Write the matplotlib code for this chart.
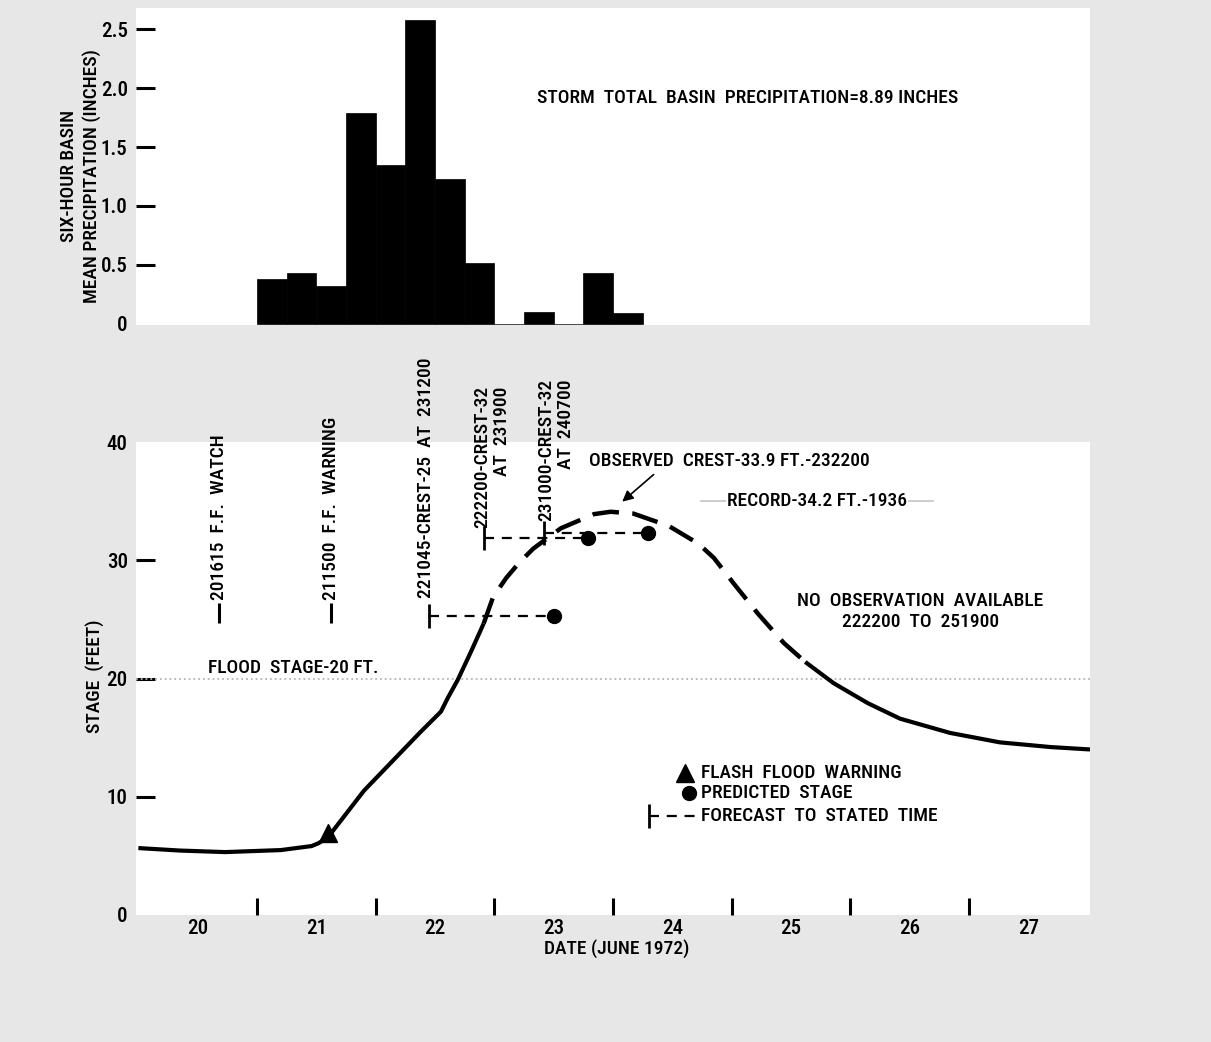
import matplotlib
matplotlib.use('Agg')
import matplotlib.pyplot as plt

plt.rcParams['font.family'] = ['Roboto Condensed', 'Open Sans', 'DejaVu Sans']
plt.rcParams['font.stretch'] = 'condensed'
plt.rcParams['font.weight'] = 'medium'
plt.rcParams['axes.labelweight'] = 'medium'
plt.rcParams['font.size'] = 14

# six-hour basin mean precipitation (inches), periods starting at the given day (June 1972)
precip_start = [21.0, 21.25, 21.5, 21.75, 22.0, 22.25, 22.5, 22.75, 23.0, 23.25, 23.5, 23.75, 24.0]
precip_in = [0.38, 0.43, 0.32, 1.79, 1.35, 2.58, 1.23, 0.52, 0.0, 0.10, 0.0, 0.43, 0.09]

# stage hydrograph (feet), observed rise
rise_day = [20.0, 20.35, 20.73, 21.2, 21.46, 21.52, 21.6, 21.9, 22.38, 22.55, 22.61, 22.69, 22.8, 22.91]
rise_ft = [5.66, 5.45, 5.32, 5.49, 5.83, 6.08, 6.6, 10.5, 15.5, 17.2, 18.4, 19.85, 22.2, 24.65]
# estimated (no observations)
est_day = [22.91, 22.99, 23.1, 23.21, 23.33, 23.56, 23.84, 23.98, 24.17, 24.47, 24.72, 24.85, 25.02, 25.22, 25.44, 25.62]
est_ft = [24.65, 26.9, 28.5, 29.8, 31.0, 32.7, 33.9, 34.1, 33.95, 32.9, 31.4, 30.2, 28.0, 25.5, 23.0, 21.4]
# observed recession
fall_day = [25.62, 25.86, 26.15, 26.42, 26.84, 27.26, 27.69, 28.02]
fall_ft = [21.4, 19.6, 17.9, 16.6, 15.4, 14.6, 14.2, 14.0]

# forecasts: issue time, target time, predicted crest
fc_issue = [22.448, 22.917, 23.417]
fc_target = [23.5, 23.792, 24.292]
fc_stage = [25.3, 31.9, 32.3]
fc_labels = ['221045-CREST-25  AT  231200', '222200-CREST-32\nAT  231900', '231000-CREST-32\nAT  240700']

# flash flood watch / warning issue times
notice_day = [20.677, 21.625]
notice_labels = ['201615  F.F.  WATCH', '211500  F.F.  WARNING']

warn_day = 21.6
warn_ft = 6.9
flood_stage = 20
record_stage = 35.0

day_ticks = [21, 22, 23, 24, 25, 26, 27]
day_label_pos = [20.5, 21.5, 22.5, 23.5, 24.5, 25.5, 26.5, 27.5]
day_labels = ['20', '21', '22', '23', '24', '25', '26', '27']

fig = plt.figure(figsize=(12.11, 10.42), dpi=100)
fig.patch.set_facecolor('#e7e7e7')

ax1 = fig.add_axes([136 / 1211, 717 / 1042, 954 / 1211, 317 / 1042])
ax2 = fig.add_axes([136 / 1211, 127 / 1042, 954 / 1211, 473 / 1042])

for ax in (ax1, ax2):
    ax.set_facecolor('white')
    for s in ax.spines.values():
        s.set_visible(False)
    ax.set_xlim(19.98, 28.02)
    ax.tick_params(axis='y', direction='in', length=14, width=2.2, pad=6, labelsize=15)

# --- precipitation
ax1.bar(precip_start, precip_in, width=0.25, align='edge', color='black', edgecolor='black', linewidth=0.5)
ax1.set_ylim(-0.01, 2.68)
ax1.set_yticks([0, 0.5, 1.0, 1.5, 2.0, 2.5])
ax1.set_yticklabels(['0', '0.5', '1.0', '1.5', '2.0', '2.5'])
ax1.yaxis.get_major_ticks()[0].tick1line.set_visible(False)
ax1.set_xticks([])
ax1.set_ylabel('SIX-HOUR BASIN\nMEAN PRECIPITATION (INCHES)', va='center', multialignment='center',
               linespacing=1.25)
ax1.yaxis.set_label_coords(-0.058, 0.47)
ax1.text(23.36, 1.92, 'STORM  TOTAL  BASIN  PRECIPITATION=8.89 INCHES', ha='left', va='center')

# --- stage
ax2.set_ylim(0, 40)
ax2.axhline(flood_stage, color='#b5b5b5', lw=1.3, ls=':')
ax2.plot(rise_day, rise_ft, color='black', lw=3, solid_capstyle='butt')
ax2.plot(est_day, est_ft, color='black', lw=3.2, ls=(0, (6, 3)))
ax2.plot(fall_day, fall_ft, color='black', lw=3, solid_capstyle='butt')
ax2.plot([warn_day], [warn_ft], marker='^', ms=13, color='black', ls='none')

for x0, x1, y in zip(fc_issue, fc_target, fc_stage):
    ax2.plot([x0, x1], [y, y], color='black', lw=1.6, ls=(0, (4.5, 3.5)))
    ax2.plot([x0], [y], marker='|', ms=17, mew=2, color='black')
    ax2.plot([x1], [y], marker='o', ms=10, color='black')

label_x = [22.42, 22.98, 23.52]
label_y = [26.8, 32.7, 33.3]
for lx, ly, txt in zip(label_x, label_y, fc_labels):
    ax2.text(lx, ly, txt, rotation=90, ha='center', va='bottom', multialignment='right', linespacing=1.1)

for nd, txt in zip(notice_day, notice_labels):
    ax2.plot([nd], [25.5], marker='|', ms=14, mew=2.2, color='black')
    ax2.text(nd, 26.6, txt, rotation=90, ha='center', va='bottom')
ax2.text(20.59, 20.9, 'FLOOD  STAGE-20 FT.', ha='left', va='center')

ax2.text(23.80, 38.4, 'OBSERVED  CREST-33.9 FT.-232200', ha='left', va='center')
ax2.annotate('', xy=(24.06, 34.8), xytext=(24.36, 37.4),
             arrowprops=dict(arrowstyle='-|>', lw=1.2, color='black', mutation_scale=16))
ax2.plot([24.74, 26.70], [record_stage, record_stage], color='#c4c4c4', lw=1.2)
ax2.text(25.72, record_stage, 'RECORD-34.2 FT.-1936', ha='center', va='center',
         bbox=dict(facecolor='white', edgecolor='none', pad=1))
ax2.text(26.59, 25.65, 'NO  OBSERVATION  AVAILABLE\n222200  TO  251900', ha='center', va='center',
         multialignment='center', linespacing=1.2)

# key
ax2.plot([24.61], [12.0], marker='^', ms=13, color='black')
ax2.text(24.74, 12.0, 'FLASH  FLOOD  WARNING', ha='left', va='center')
ax2.plot([24.64], [10.3], marker='o', ms=10, color='black')
ax2.text(24.74, 10.3, 'PREDICTED  STAGE', ha='left', va='center')
ax2.plot([24.30, 24.71], [8.4, 8.4], color='black', lw=1.6, ls=(0, (4.5, 3.5)))
ax2.plot([24.30], [8.4], marker='|', ms=17, mew=2, color='black')
ax2.text(24.74, 8.4, 'FORECAST  TO  STATED  TIME', ha='left', va='center')

ax2.set_yticks([0, 10, 20, 30, 40])
ticks = ax2.yaxis.get_major_ticks()
ticks[0].tick1line.set_visible(False)
ticks[4].tick1line.set_visible(False)
ax2.set_ylabel('STAGE  (FEET)', va='center')
ax2.yaxis.set_label_coords(-0.043, 0.505)

ax2.set_xticks(day_ticks)
ax2.set_xticklabels([])
ax2.tick_params(axis='x', which='major', direction='in', length=12, width=2.2)
ax2.set_xticks(day_label_pos, minor=True)
ax2.set_xticklabels(day_labels, minor=True)
ax2.tick_params(axis='x', which='minor', length=0, pad=3, labelsize=15)
ax2.set_xlabel('DATE (JUNE 1972)', va='center')
ax2.xaxis.set_label_coords(0.504, -0.07)

fig.savefig('out.png', dpi=100, facecolor=fig.get_facecolor())
